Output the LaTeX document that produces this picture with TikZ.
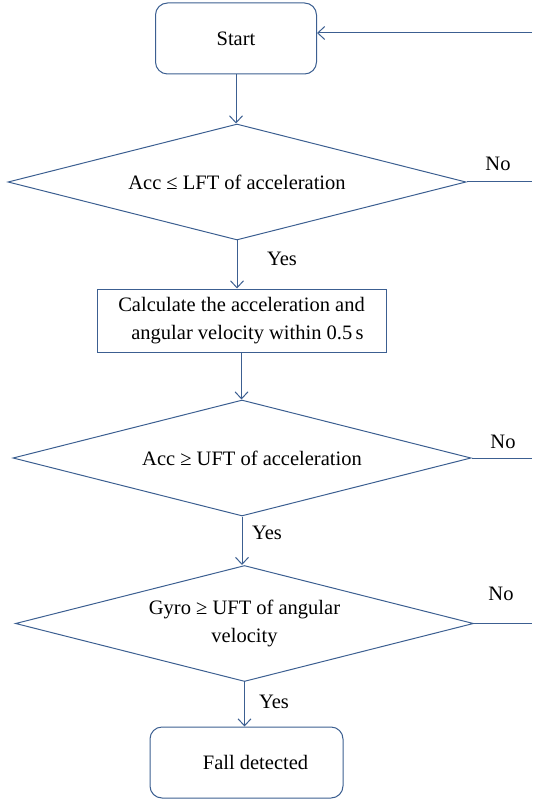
\documentclass[tikz,border=0pt]{standalone}
\usepackage{fontspec}
\setmainfont{Liberation Serif}
\usetikzlibrary{shapes.geometric,arrows.meta}
\definecolor{lc}{RGB}{60,95,145}
\begin{document}
\begin{tikzpicture}[x=1pt,y=-1pt,
  every node/.style={font=\fontsize{20.5}{28}\selectfont, text=black},
  term/.style={draw=lc, line width=1pt, rounded corners=12pt, minimum width=#1, minimum height=71pt, inner sep=0pt},
  proc/.style={draw=lc, line width=1pt, minimum width=289pt, minimum height=63pt, inner sep=0pt, align=center},
  decis/.style={draw=lc, line width=1pt, shape=diamond, aspect=3.95, minimum width=458pt, minimum height=116pt, inner sep=0pt, align=center},
  lbl/.style={inner sep=0pt},
  conn/.style={draw=lc, line width=1pt},
  arr/.style={conn, -{Straight Barb[length=7pt,width=13pt]}}]
\useasboundingbox (0,0) rectangle (532,799);
\node[term=161pt] (start) at (236,38.5) {Start};
\node[decis] (d1) at (237,182) {Acc ≤ LFT of acceleration};
\node[proc] (calc) at (241.5,320.5) {Calculate the acceleration and\\\hspace*{12pt}angular velocity within 0.5\,s};
\node[decis] (d2) at (242,458) {\hspace*{20pt}Acc ≥ UFT of acceleration};
\node[decis] (d3) at (244.5,623.5) {Gyro ≥ UFT of angular\\velocity};
\node[term=193pt] (fall) at (246.5,762.5) {\hspace*{18pt}Fall detected};
\coordinate (edge) at (532,33);
\node[lbl] (no1) at (498,164) {No};
\node[lbl] (no2) at (503,442) {No};
\node[lbl] (no3) at (501,594) {No};
\node[lbl] (yes1) at (282,259) {Yes};
\node[lbl] (yes2) at (267,533) {Yes};
\node[lbl] (yes3) at (274,702) {Yes};
\draw[arr] (start.south) -- (d1.north -| start.south);
\draw[arr] (d1.south) -- (calc.north -| d1.south);
\draw[arr] (calc.south) -- (d2.north -| calc.south);
\draw[arr] (d2.south) -- (d3.north -| d2.south);
\draw[arr] (d3.south) -- (fall.north -| d3.south);
\draw[arr] (edge) -- (edge -| start.east);
\draw[conn] (d1.east) -- (d1.east -| edge);
\draw[conn] (d2.east) -- (d2.east -| edge);
\draw[conn] (d3.east) -- (d3.east -| edge);
\end{tikzpicture}
\end{document}
